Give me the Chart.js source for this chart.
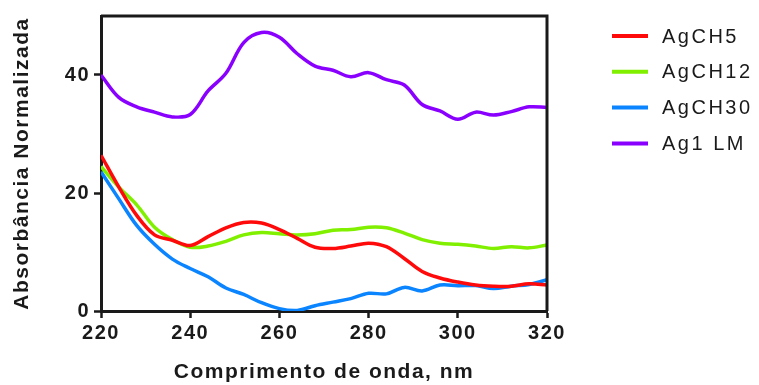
<!DOCTYPE html>
<html>
<head>
<meta charset="utf-8">
<script src="https://cdn.jsdelivr.net/npm/chart.js@4"></script>
<style>
  html, body { margin: 0; padding: 0; background: #fff; }
  #wrap { width: 759px; height: 385px; }
</style>
</head>
<body>
<div id="wrap"><canvas id="spectra"></canvas></div>
<script>
const wavelengths = [220, 224, 228, 232, 236, 240, 244, 248, 252, 256, 260, 264, 268,
                     272, 276, 280, 284, 288, 292, 296, 300, 304, 308, 312, 316, 320];

const agch5  = [26.4, 21.0, 16.2, 12.9, 12.0, 11.1, 12.6, 14.1, 15.0, 14.9, 13.8, 12.3, 10.8,
                10.6, 11.0, 11.5, 10.9, 8.9, 6.7, 5.6, 4.9, 4.4, 4.2, 4.2, 4.6, 4.4];
const agch12 = [24.5, 21.0, 18.0, 14.2, 12.1, 10.8, 11.0, 11.8, 12.9, 13.3, 13.1, 12.9, 13.1,
                13.7, 13.8, 14.2, 14.1, 13.2, 12.1, 11.5, 11.3, 11.0, 10.6, 10.9, 10.7, 11.2];
const agch30 = [23.6, 19.0, 14.5, 11.3, 8.8, 7.2, 5.8, 3.9, 2.8, 1.4, 0.4, 0.1, 0.9,
                1.5, 2.1, 3.0, 2.9, 4.0, 3.4, 4.4, 4.3, 4.3, 3.8, 4.2, 4.5, 5.3];
const ag1lm  = [40.0, 36.2, 34.6, 33.7, 32.9, 33.3, 37.3, 40.3, 45.5, 47.2, 46.4, 43.6, 41.5,
                40.8, 39.7, 40.4, 39.2, 38.3, 35.0, 33.9, 32.5, 33.7, 33.2, 33.8, 34.6, 34.5];

const seriesNames = ['AgCH5', 'AgCH12', 'AgCH30', 'Ag1 LM'];
const xTicks = [220, 240, 260, 280, 300, 320];
const yTicks = [0, 20, 40];

const colors = ['#ff0a0a', '#80f000', '#0a84ff', '#8a00ff'];
const allSeries = [agch5, agch12, agch30, ag1lm];

function toPoints(vals) {
  return vals.map((v, i) => ({ x: wavelengths[i], y: v }));
}

const ink = '#1a1a1a';

// top and right sides of the frame
const frameBox = {
  id: 'frameBox',
  afterDatasetsDraw(chart) {
    const { ctx, chartArea: a } = chart;
    ctx.save();
    ctx.strokeStyle = ink;
    ctx.lineWidth = 3;
    ctx.beginPath();
    ctx.moveTo(a.left, a.top);
    ctx.lineTo(a.right, a.top);
    ctx.lineTo(a.right, a.bottom);
    ctx.stroke();
    ctx.restore();
  }
};

const spacing = {
  id: 'spacing',
  beforeDraw(chart) {
    chart.ctx.letterSpacing = '1.5px';
  }
};

// legend on the right, drawn from the datasets
const sideLegend = {
  id: 'sideLegend',
  afterDraw(chart) {
    const ctx = chart.ctx;
    ctx.save();
    ctx.letterSpacing = '2.5px';
    ctx.font = '20px "Liberation Sans", Arial, sans-serif';
    ctx.textBaseline = 'middle';
    ctx.fillStyle = ink;
    chart.data.datasets.forEach((ds, i) => {
      const y = 36 + i * 35.8;
      ctx.strokeStyle = ds.borderColor;
      ctx.lineWidth = 4;
      ctx.beginPath();
      ctx.moveTo(612, y);
      ctx.lineTo(648, y);
      ctx.stroke();
      ctx.fillText(ds.label, 662, y + 1);
    });
    ctx.restore();
  }
};

new Chart(document.getElementById('spectra'), {
  type: 'line',
  data: {
    datasets: allSeries.map((vals, i) => ({
      label: seriesNames[i],
      data: toPoints(vals),
      borderColor: colors[i],
      borderWidth: 3.5,
      pointRadius: 0,
      tension: 0.35,
      fill: false
    }))
  },
  options: {
    responsive: true,
    maintainAspectRatio: false,
    animation: false,
    layout: { padding: { top: 15, right: 212, left: 0, bottom: 0 } },
    plugins: {
      legend: { display: false },
      tooltip: { enabled: false }
    },
    scales: {
      x: {
        type: 'linear',
        min: 220,
        max: 320,
        afterBuildTicks: axis => { axis.ticks = xTicks.map(v => ({ value: v })); },
        afterFit: axis => { axis.height = 74; },
        border: { color: ink, width: 3 },
        grid: { drawOnChartArea: false, drawTicks: true, tickLength: 7, tickWidth: 2.5, tickColor: ink },
        ticks: {
          color: ink,
          padding: 3,
          maxRotation: 0,
          font: { family: '"Liberation Sans", Arial, sans-serif', size: 20, weight: 'bold' }
        },
        title: {
          display: true,
          text: 'Comprimento de onda, nm',
          color: ink,
          padding: { top: 0, bottom: 0 },
          font: { family: '"Liberation Sans", Arial, sans-serif', size: 21, weight: 'bold' }
        }
      },
      y: {
        min: 0,
        max: 50,
        afterBuildTicks: axis => { axis.ticks = yTicks.map(v => ({ value: v })); },
        afterFit: axis => { axis.width = 101; },
        border: { color: ink, width: 3 },
        grid: { drawOnChartArea: false, drawTicks: true, tickLength: 7, tickWidth: 2.5, tickColor: ink },
        ticks: {
          color: ink,
          padding: 4,
          font: { family: '"Liberation Sans", Arial, sans-serif', size: 20, weight: 'bold' }
        },
        title: {
          display: true,
          text: 'Absorbância Normalizada',
          color: ink,
          padding: { top: 10, bottom: 0 },
          font: { family: '"Liberation Sans", Arial, sans-serif', size: 21, weight: 'bold' }
        }
      }
    }
  },
  plugins: [spacing, frameBox, sideLegend]
});
</script>
</body>
</html>
